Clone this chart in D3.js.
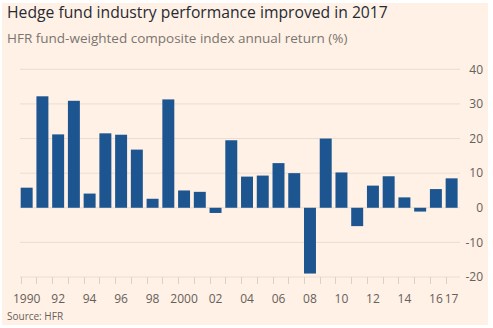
<!DOCTYPE html>
<html>
<head>
<meta charset="utf-8">
<script src="https://cdn.jsdelivr.net/npm/d3@7"></script>
<style>
html,body{margin:0;padding:0;background:#ffffff;}
svg{display:block;}
text{font-family:"Open Sans","Noto Sans",sans-serif;}
</style>
</head>
<body>
<svg id="chart" width="493" height="328"></svg>
<script>
const years = d3.range(1990, 2018);
const returns = [5.8, 32.2, 21.2, 30.9, 4.1, 21.5, 21.1, 16.8, 2.6, 31.3,
                 5.0, 4.6, -1.5, 19.5, 9.0, 9.3, 12.9, 10.0, -19.0, 20.0,
                 10.2, -5.3, 6.4, 9.1, 3.0, -1.1, 5.4, 8.5];
const yTicks = [-20, -10, 0, 10, 20, 30, 40];
const xTickLabels = [[1990,"1990"],[1992,"92"],[1994,"94"],[1996,"96"],[1998,"98"],[2000,"2000"],[2002,"02"],[2004,"04"],[2006,"06"],[2008,"08"],[2010,"10"],[2012,"12"],[2014,"14"],[2016,"16"],[2017,"17"]];
const title = "Hedge fund industry performance improved in 2017";
const subtitle = "HFR fund-weighted composite index annual return (%)";
const source = "Source: HFR";

const svg = d3.select("#chart");
svg.append("rect").attr("x",2).attr("y",3).attr("width",486).attr("height",322).attr("fill","#fff1e5");

const x = d3.scaleBand().domain(years).range([18.8, 459.5]).paddingInner(0.24).paddingOuter(0.12);
const y = d3.scaleLinear().domain([-20, 40]).range([277, 69.3]);

// gridlines
svg.append("g").selectAll("line").data(yTicks).join("line")
  .attr("x1", 20).attr("x2", 460)
  .attr("y1", d => y(d)).attr("y2", d => y(d))
  .attr("stroke", "#e9ddd3").attr("stroke-width", 1);

// y labels
svg.append("g").selectAll("text").data(yTicks).join("text")
  .attr("x", 483).attr("y", d => y(d)).attr("dy", "0.35em")
  .attr("text-anchor", "end").attr("font-size", 12).attr("fill", "#66605c")
  .text(d => d);

// bars
svg.append("g").selectAll("rect").data(returns).join("rect")
  .attr("x", (d,i) => x(years[i]))
  .attr("width", x.bandwidth())
  .attr("y", d => y(Math.max(0, d)))
  .attr("height", d => Math.abs(y(d) - y(0)))
  .attr("fill", "#1d5590");

// x ticks at bar left edges
svg.append("g").selectAll("line").data(years).join("line")
  .attr("x1", d => Math.round(x(d)) + 0.5).attr("x2", d => Math.round(x(d)) + 0.5)
  .attr("y1", y(-20)).attr("y2", y(-20) + 7)
  .attr("stroke", "#ddd1c7").attr("stroke-width", 1);

// x labels
svg.append("g").selectAll("text").data(xTickLabels).join("text")
  .attr("x", d => x(d[0]) + x.bandwidth()/2).attr("y", 303)
  .attr("text-anchor", "middle").attr("font-size", 12).attr("fill", "#66605c")
  .text(d => d[1]);

svg.append("text").attr("x", 7).attr("y", 17.5).attr("font-size", 15.7).attr("fill", "#262a33").text(title);
svg.append("text").attr("x", 7).attr("y", 42.5).attr("font-size", 13.5).attr("fill", "#7a7571").text(subtitle);
svg.append("text").attr("x", 7).attr("y", 320).attr("font-size", 10).attr("fill", "#66605c").text(source);
</script>
</body>
</html>
